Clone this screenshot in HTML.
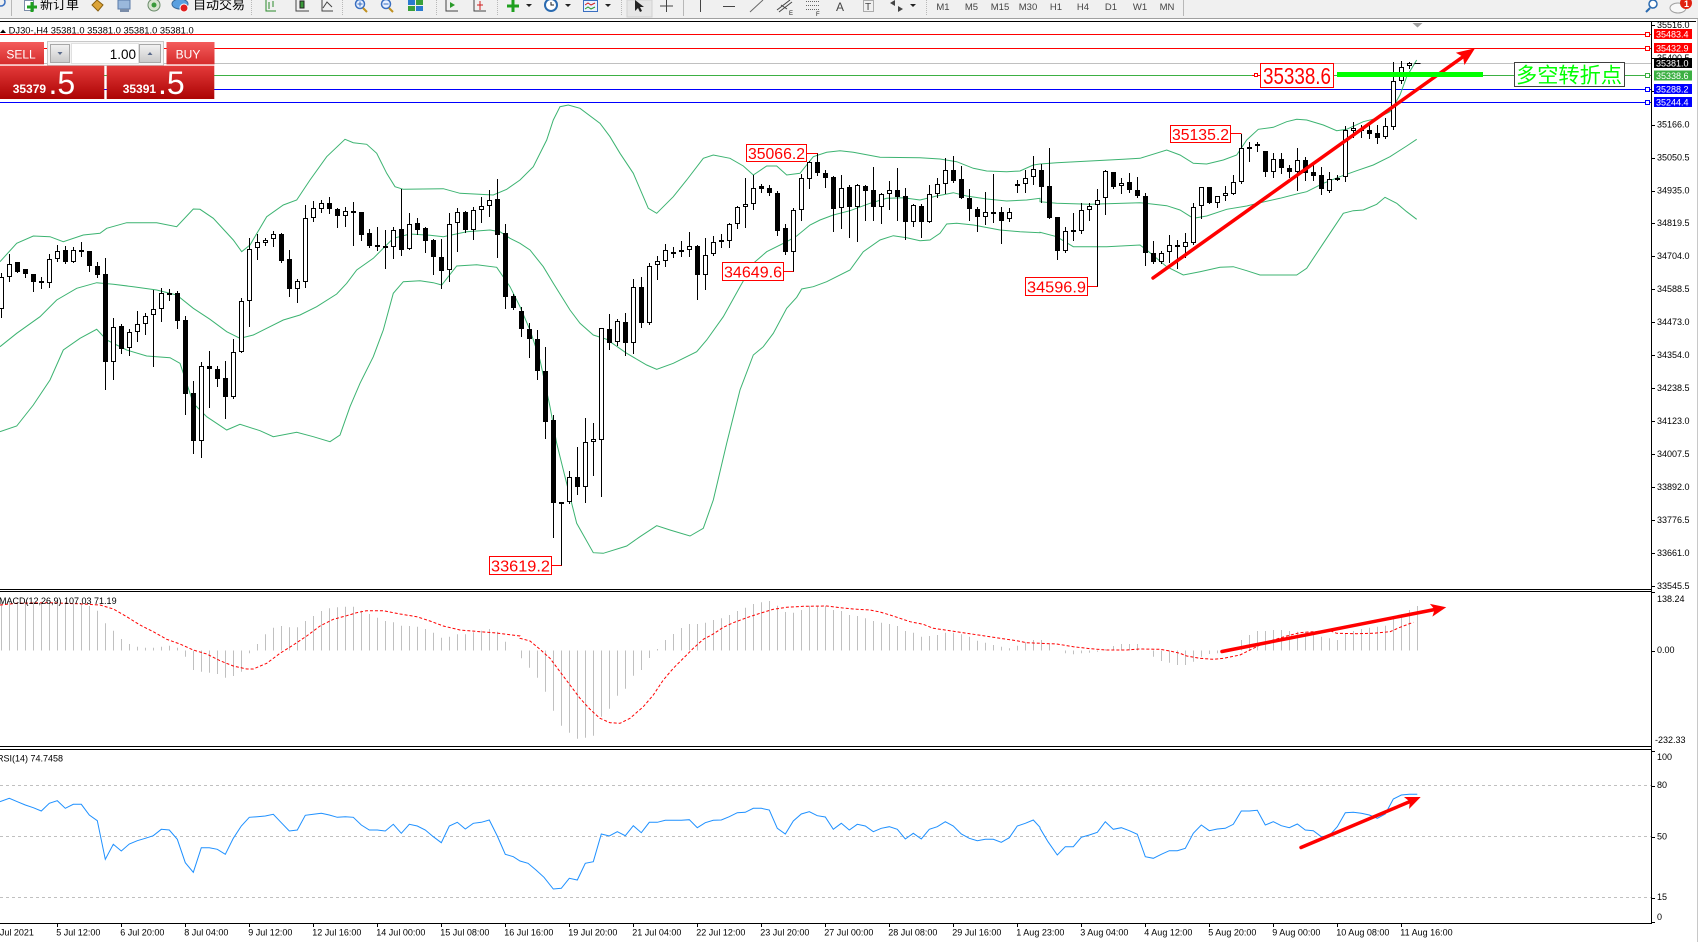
<!DOCTYPE html>
<html><head><meta charset="utf-8">
<style>
html,body{margin:0;padding:0;background:#fff;}
body{width:1698px;height:942px;overflow:hidden;position:relative;}
svg{display:block;font-family:"Liberation Sans","Noto Sans CJK SC",sans-serif;}
</style></head><body>
<svg id="s" width="1698" height="942" viewBox="0 0 1698 942" xmlns="http://www.w3.org/2000/svg">
<defs>
 <linearGradient id="gBtn" x1="0" y1="0" x2="0" y2="1"><stop offset="0" stop-color="#f45c5c"/><stop offset="1" stop-color="#d42a2a"/></linearGradient>
 <linearGradient id="gPx" x1="0" y1="0" x2="0" y2="1"><stop offset="0" stop-color="#e43a3a"/><stop offset="1" stop-color="#ac0404"/></linearGradient>
 <linearGradient id="gGr" x1="0" y1="0" x2="0" y2="1"><stop offset="0" stop-color="#f2f2f2"/><stop offset="1" stop-color="#c9c9c9"/></linearGradient>
 <clipPath id="cMain"><rect x="0" y="22" width="1651" height="567"/></clipPath>
 <clipPath id="cMacd"><rect x="0" y="592" width="1651" height="154"/></clipPath>
 <clipPath id="cRsi"><rect x="0" y="750" width="1651" height="173"/></clipPath>
</defs>
<rect width="1698" height="942" fill="#fff"/>

<!-- ===== toolbar ===== -->
<rect x="0" y="0" width="1698" height="19" fill="#f0f0f0"/>
<line x1="0" y1="18.5" x2="1698" y2="18.5" stroke="#a0a0a0"/>
<g stroke-width="1">
 <circle cx="1" cy="2" r="4" fill="none" stroke="#3a6fc0" stroke-width="1.5"/>
 <line x1="11.5" y1="0" x2="11.5" y2="16" stroke="#b8b8b8"/>
 <rect x="24.5" y="0.5" width="9" height="10" fill="#fff" stroke="#7a8ca8"/>
 <path d="M27 7h10M32 2v10" stroke="#1fa01f" stroke-width="3"/>
 <path d="M92 5 l5 -5 l6 5 l-5 6z" fill="#dca438" stroke="#8a6010"/>
 <rect x="118" y="0" width="12" height="9" fill="#9ab8dc" stroke="#5a7aa8"/>
 <rect x="120" y="9" width="9" height="3" fill="#7a8ca8"/>
 <circle cx="154" cy="5" r="6" fill="#d8e4d0" stroke="#6a8a6a"/>
 <circle cx="154" cy="5" r="2.5" fill="#3a9a3a"/>
 <ellipse cx="180" cy="4" rx="8" ry="5" fill="#5aa0e0" stroke="#3a6a9a"/>
 <circle cx="184" cy="8" r="4" fill="#e02020" stroke="#fff"/>
 <line x1="251.5" y1="0" x2="251.5" y2="16" stroke="#b8b8b8" stroke-dasharray="1,1"/>
 <path d="M266 0v11h10M269 2v7M273 1v6" fill="none" stroke="#2a8a2a"/>
 <path d="M296 0v11h13" fill="none" stroke="#444"/><rect x="300" y="1" width="4" height="7" fill="#3a9a3a" stroke="#222"/>
 <path d="M322 0v11h11M323 8l4 -6l5 5" fill="none" stroke="#444"/>
 <line x1="342.5" y1="0" x2="342.5" y2="16" stroke="#b8b8b8" stroke-dasharray="1,1"/>
 <circle cx="360" cy="4" r="4.5" fill="#e8f0ff" stroke="#3a6fc0" stroke-width="1.5"/><path d="M357.5 4h5M360 1.5v5" stroke="#3a6fc0"/><path d="M363 8l4 4" stroke="#c09020" stroke-width="2"/>
 <circle cx="386" cy="4" r="4.5" fill="#e8f0ff" stroke="#3a6fc0" stroke-width="1.5"/><path d="M383.5 4h5" stroke="#3a6fc0"/><path d="M389 8l4 4" stroke="#c09020" stroke-width="2"/>
 <rect x="408" y="0" width="7" height="5" fill="#2a7ad0"/><rect x="416" y="0" width="7" height="5" fill="#3aa03a"/><rect x="408" y="6" width="7" height="5" fill="#3aa03a"/><rect x="416" y="6" width="7" height="5" fill="#2a7ad0"/>
 <line x1="436.5" y1="0" x2="436.5" y2="16" stroke="#b8b8b8" stroke-dasharray="1,1"/>
 <path d="M446 0v11h12" fill="none" stroke="#444"/><path d="M450 2l5 3l-5 3z" fill="#2a9a2a"/>
 <path d="M474 0v11h12" fill="none" stroke="#444"/><path d="M480 1v9M477 5h6" stroke="#d02020"/>
 <line x1="497.5" y1="0" x2="497.5" y2="16" stroke="#b8b8b8" stroke-dasharray="1,1"/>
 <path d="M507 6h12M513 0v12" stroke="#1fa01f" stroke-width="3"/><path d="M526 4h6l-3 3z" fill="#222"/>
 <circle cx="551" cy="5" r="6" fill="#fff" stroke="#2a6ab0" stroke-width="2"/><path d="M551 2v3h3" stroke="#222" fill="none"/><path d="M565 4h6l-3 3z" fill="#222"/>
 <rect x="583.5" y="0.5" width="14" height="11" fill="#eaf2ff" stroke="#3a6fc0"/><path d="M585 5l3 -2l3 2l4 -2" stroke="#d02020" fill="none"/><path d="M585 9l3 -2l3 2l4 -2" stroke="#2a9a2a" fill="none"/><path d="M605 4h6l-3 3z" fill="#222"/>
 <line x1="621.5" y1="0" x2="621.5" y2="16" stroke="#b8b8b8" stroke-dasharray="1,1"/>
 <rect x="627" y="0" width="25" height="17" fill="#e6e6e6" stroke="#d0d0d0"/>
 <path d="M635 0v11l3 -3l2 4l2 -1l-2 -4h4z" fill="#222"/>
 <path d="M660 6h13M666.5 0v12" stroke="#444"/>
 <line x1="683.5" y1="0" x2="683.5" y2="16" stroke="#b8b8b8"/>
 <line x1="700.5" y1="0" x2="700.5" y2="12" stroke="#444"/>
 <line x1="723" y1="6.5" x2="735" y2="6.5" stroke="#444"/>
 <line x1="750" y1="12" x2="763" y2="0" stroke="#666"/>
 <path d="M777 10l13 -10M779 12l13 -10M781 5l6 4" stroke="#444" fill="none"/><text x="789" y="15" font-size="6" fill="#222">E</text>
 <path d="M806 1.5h13M806 5.5h13M806 9.5h13" stroke="#666" stroke-dasharray="1,1"/><text x="816" y="16" font-size="6" fill="#222">F</text>
 <text x="836" y="11" font-size="12" fill="#444">A</text>
 <rect x="863.5" y="0.5" width="10" height="11" fill="none" stroke="#666" stroke-dasharray="1,1"/><text x="865" y="10" font-size="10" fill="#444">T</text>
 <path d="M890 3l5 -3l0 6zM903 9l-5 3l0 -6z" fill="#444"/><path d="M910 4h6l-3 3z" fill="#222"/>
 <line x1="926.5" y1="0" x2="926.5" y2="16" stroke="#b8b8b8" stroke-dasharray="1,1"/>
 <line x1="1183.5" y1="0" x2="1183.5" y2="16" stroke="#b8b8b8"/>
 <circle cx="1653" cy="4" r="4" fill="#fff" stroke="#2a6ab0" stroke-width="1.5"/><path d="M1650 8l-4 4" stroke="#2a6ab0" stroke-width="2"/>
 <ellipse cx="1678" cy="8" rx="8" ry="5" fill="#f8f8f8" stroke="#a0a0a0"/>
 <circle cx="1686" cy="3" r="6" fill="#e02010"/>
</g>
<text x="40" y="9" font-size="13" fill="#000" font-family="'Noto Sans CJK SC',sans-serif">新订单</text>
<text x="193" y="9" font-size="13" fill="#000" font-family="'Noto Sans CJK SC',sans-serif">自动交易</text>
<g font-size="9.5" fill="#444" text-anchor="middle">
 <text x="943" y="10">M1</text><text x="971.5" y="10">M5</text><text x="1000" y="10">M15</text><text x="1028" y="10">M30</text><text x="1056" y="10">H1</text><text x="1083" y="10">H4</text><text x="1111" y="10">D1</text><text x="1140" y="10">W1</text><text x="1167" y="10">MN</text>
</g>
<text x="1684" y="7" font-size="9" fill="#fff" font-weight="bold">1</text>

<!-- ===== frame ===== -->
<line x1="0" y1="21.5" x2="1696" y2="21.5" stroke="#000"/>
<line x1="1697.5" y1="19" x2="1697.5" y2="942" stroke="#c8c8c8"/>

<!-- level lines -->
<g stroke-width="1">
 <line x1="0" y1="34.5" x2="1651" y2="34.5" stroke="#ff0000"/>
 <line x1="0" y1="48.5" x2="1651" y2="48.5" stroke="#ff0000"/>
 <line x1="0" y1="63.5" x2="1651" y2="63.5" stroke="#c0c0c0"/>
 <line x1="0" y1="75.5" x2="1651" y2="75.5" stroke="#3cb043"/>
 <line x1="0" y1="89.5" x2="1651" y2="89.5" stroke="#0000ff"/>
 <line x1="0" y1="102.5" x2="1651" y2="102.5" stroke="#0000ff"/>
 <rect x="1645.5" y="32.5" width="4" height="4" fill="#fff" stroke="#ff0000"/>
 <rect x="1645.5" y="46.5" width="4" height="4" fill="#fff" stroke="#ff0000"/>
 <rect x="1645.5" y="73.5" width="4" height="4" fill="#fff" stroke="#3cb043"/>
 <rect x="1645.5" y="87.5" width="4" height="4" fill="#fff" stroke="#0000ff"/>
 <rect x="1645.5" y="100.5" width="4" height="4" fill="#fff" stroke="#0000ff"/>
</g>
<polygon points="1412.5,23 1422.5,23 1417.5,27.5" fill="#a0a0a0"/>

<g id="dyn"></g>

<!-- annotations: labels -->
<g font-size="16" fill="#ff0000">
 <rect x="746.5" y="144.5" width="60" height="17" fill="#fff" stroke="#ff0000"/>
 <text x="748" y="159" textLength="57" lengthAdjust="spacingAndGlyphs">35066.2</text>
 <rect x="722.5" y="262.5" width="61" height="18" fill="#fff" stroke="#ff0000"/>
 <text x="724" y="277.5" textLength="58" lengthAdjust="spacingAndGlyphs">34649.6</text>
 <rect x="489.5" y="556.5" width="62" height="18" fill="#fff" stroke="#ff0000"/>
 <text x="491" y="571.5" textLength="59" lengthAdjust="spacingAndGlyphs">33619.2</text>
 <rect x="1170.5" y="125.5" width="60" height="17" fill="#fff" stroke="#ff0000"/>
 <text x="1172" y="140" textLength="57" lengthAdjust="spacingAndGlyphs">35135.2</text>
 <rect x="1025.5" y="277.5" width="62" height="18" fill="#fff" stroke="#ff0000"/>
 <text x="1027" y="292.5" textLength="59" lengthAdjust="spacingAndGlyphs">34596.9</text>
</g>
<g stroke="#ff0000" stroke-width="1" fill="none">
 <path d="M806.5 153.5H817.5"/>
 <path d="M783.5 271.5H793.5"/>
 <path d="M551.5 565.5H561.5"/>
 <path d="M1230.5 133.5H1241.5"/>
 <path d="M1087.5 286.5H1097.5"/>
 <path d="M1252 75.5H1260"/>
 <rect x="1254.5" y="73.5" width="3" height="3" fill="#fff"/>
</g>
<rect x="1260.5" y="63.5" width="73" height="24" fill="#fff" stroke="#ff0000"/>
<text x="1263" y="84" font-size="23" fill="#ff0000" textLength="68" lengthAdjust="spacingAndGlyphs">35338.6</text>
<rect x="1337" y="72" width="146" height="5" fill="#00ff00"/>
<rect x="1514.5" y="62.5" width="110" height="24" fill="#fff" stroke="#404040"/>
<text x="1516" y="82.5" font-size="21" fill="#00ff00" font-family="'Noto Sans CJK SC',sans-serif" textLength="106" lengthAdjust="spacingAndGlyphs">多空转折点</text>

<!-- header -->
<rect x="0" y="23" width="197" height="11" fill="#fff"/>
<polygon points="0,33 3,29.5 6,33" fill="#000"/>
<text x="8.7" y="33.5" font-size="9.3" fill="#000" textLength="185" lengthAdjust="spacingAndGlyphs">DJ30-,H4  35381.0 35381.0 35381.0 35381.0</text>

<!-- trade panel -->
<rect x="0" y="42" width="44" height="23" fill="url(#gBtn)"/>
<line x1="0" y1="64.5" x2="44" y2="64.5" stroke="#f4b0b0"/>
<text x="21" y="58.5" font-size="12" fill="#fff" text-anchor="middle">SELL</text>
<rect x="47.5" y="41.5" width="116" height="24" fill="#f4f4f4" stroke="#c8c8c8"/>
<rect x="50.5" y="44.5" width="19" height="18" fill="url(#gGr)" stroke="#a8a8a8"/>
<rect x="71.5" y="43.5" width="67" height="20" fill="#fff" stroke="#e0e0e0"/>
<rect x="139.5" y="44.5" width="21" height="18" fill="url(#gGr)" stroke="#a8a8a8"/>
<polygon points="57.5,52 62.5,52 60,55" fill="#5a6a8a"/>
<polygon points="147.5,55 152.5,55 150,52" fill="#5a6a8a"/>
<text x="136" y="59" font-size="13.5" fill="#000" text-anchor="end">1.00</text>
<rect x="166.5" y="42" width="48" height="23" fill="url(#gBtn)"/>
<line x1="166.5" y1="64.5" x2="214.5" y2="64.5" stroke="#f4b0b0"/>
<text x="188" y="58.5" font-size="12" fill="#fff" text-anchor="middle">BUY</text>
<rect x="0" y="65.7" width="104.3" height="33.3" fill="url(#gPx)"/>
<rect x="106.7" y="65.7" width="107.6" height="33.3" fill="url(#gPx)"/>
<text x="12.7" y="93" font-size="12" font-weight="bold" fill="#fff">35379</text>
<text x="48.5" y="94" font-size="32" fill="#fff">.5</text>
<text x="122.7" y="93" font-size="12" font-weight="bold" fill="#fff">35391</text>
<text x="158" y="94" font-size="32" fill="#fff">.5</text>

<!-- axes lines -->
<g stroke="#000" stroke-width="1">
 <line x1="1651.5" y1="22" x2="1651.5" y2="924"/>
 <line x1="0" y1="589.5" x2="1651.5" y2="589.5"/>
 <line x1="0" y1="591.5" x2="1651.5" y2="591.5"/>
 <line x1="0" y1="746.5" x2="1651.5" y2="746.5"/>
 <line x1="0" y1="749.5" x2="1651.5" y2="749.5"/>
 <line x1="0" y1="923.5" x2="1651.5" y2="923.5"/>
</g>

<!-- price axis -->
<g font-size="9" fill="#000">
 <text x="1657" y="28">35516.0</text>
 <text x="1657" y="61">35400.5</text>
 <text x="1657" y="94">35285.0</text>
 <text x="1657" y="127.5">35166.0</text>
 <text x="1657" y="160.5">35050.5</text>
 <text x="1657" y="193.5">34935.0</text>
 <text x="1657" y="226">34819.5</text>
 <text x="1657" y="259">34704.0</text>
 <text x="1657" y="292">34588.5</text>
 <text x="1657" y="325">34473.0</text>
 <text x="1657" y="358">34354.0</text>
 <text x="1657" y="391">34238.5</text>
 <text x="1657" y="424">34123.0</text>
 <text x="1657" y="457">34007.5</text>
 <text x="1657" y="490">33892.0</text>
 <text x="1657" y="523">33776.5</text>
 <text x="1657" y="556">33661.0</text>
 <text x="1657" y="589">33545.5</text>
 <text x="1657" y="602">138.24</text>
 <text x="1657" y="653">0.00</text>
 <text x="1655" y="743">-232.33</text>
 <text x="1657" y="760">100</text>
 <text x="1657" y="788">80</text>
 <text x="1657" y="839.5">50</text>
 <text x="1657" y="900">15</text>
 <text x="1657" y="920">0</text>
</g>
<g id="ticks" stroke="#000"></g>
<!-- colored axis labels -->
<g font-size="9" fill="#fff">
 <rect x="1654" y="29" width="38" height="10" fill="#ff0000"/><text x="1656" y="37.5">35483.4</text>
 <rect x="1654" y="43" width="38" height="10" fill="#ff0000"/><text x="1656" y="51.5">35432.9</text>
 <rect x="1654" y="58" width="38" height="10" fill="#000"/><text x="1656" y="66.5">35381.0</text>
 <rect x="1654" y="70.5" width="38" height="10" fill="#3cb043"/><text x="1656" y="79">35338.6</text>
 <rect x="1654" y="84" width="38" height="10" fill="#0000ff"/><text x="1656" y="92.5">35288.2</text>
 <rect x="1654" y="97" width="38" height="10" fill="#0000ff"/><text x="1656" y="105.5">35244.4</text>
</g>

<!-- indicator labels -->
<text x="-1" y="604" font-size="9" fill="#000">MACD(12,26,9) 107.03 71.19</text>
<text x="-3" y="761.5" font-size="9" fill="#000">RSI(14) 74.7458</text>

<!-- time axis -->
<g font-size="9" fill="#000">
 <text x="-7.7" y="935.5">2 Jul 2021</text>
 <text x="56.3" y="935.5">5 Jul 12:00</text>
 <text x="120.3" y="935.5">6 Jul 20:00</text>
 <text x="184.3" y="935.5">8 Jul 04:00</text>
 <text x="248.3" y="935.5">9 Jul 12:00</text>
 <text x="312.3" y="935.5">12 Jul 16:00</text>
 <text x="376.3" y="935.5">14 Jul 00:00</text>
 <text x="440.3" y="935.5">15 Jul 08:00</text>
 <text x="504.3" y="935.5">16 Jul 16:00</text>
 <text x="568.3" y="935.5">19 Jul 20:00</text>
 <text x="632.3" y="935.5">21 Jul 04:00</text>
 <text x="696.3" y="935.5">22 Jul 12:00</text>
 <text x="760.3" y="935.5">23 Jul 20:00</text>
 <text x="824.3" y="935.5">27 Jul 00:00</text>
 <text x="888.3" y="935.5">28 Jul 08:00</text>
 <text x="952.3" y="935.5">29 Jul 16:00</text>
 <text x="1016.3" y="935.5">1 Aug 23:00</text>
 <text x="1080.3" y="935.5">3 Aug 04:00</text>
 <text x="1144.3" y="935.5">4 Aug 12:00</text>
 <text x="1208.3" y="935.5">5 Aug 20:00</text>
 <text x="1272.3" y="935.5">9 Aug 00:00</text>
 <text x="1336.3" y="935.5">10 Aug 08:00</text>
 <text x="1400.3" y="935.5">11 Aug 16:00</text>
</g>
</svg>
<script>
(function(){
var out='';
function f(v){return (Math.round(v*10)/10).toString();}
function L(x1,y1,x2,y2,c,w,ex){out+='<line x1="'+f(x1)+'" y1="'+f(y1)+'" x2="'+f(x2)+'" y2="'+f(y2)+'" stroke="'+c+'" stroke-width="'+(w||1)+'" '+(ex||'')+'/>';}
function P(pts,c,w,ex){out+='<polyline points="'+pts.map(function(p){return f(p[0])+','+f(p[1]);}).join(' ')+'" fill="none" stroke="'+c+'" stroke-width="'+(w||1)+'" '+(ex||'')+'/>';}
function conv(segs){var r=[];segs.forEach(function(s){var a=s[2],xo=s[0],yo=s[1];for(var i=0;i<a.length;i+=2)r.push([xo+a[i]/3,yo+a[i+1]/3]);});return r;}

/* Bollinger bands */
var UP=conv([[0,90,[0,515,50,460,100,438,150,440,190,455,250,435,300,430,320,415,380,398,470,398,530,410,580,357,600,358,640,385,700,450,725,485,750,465,800,380,850,345,890,330,930,270,980,200,1035,148,1060,158,1100,163,1130,190,1160,250,1185,290,1210,298,1330,296,1380,310,1480,315,1520,298,1560,270]],
[520,90,[40,230,80,150,100,90,120,50,145,45,180,55,240,100,270,140,300,190,340,250,385,355,410,370,460,320,500,270,550,205,580,195,630,205,670,228,700,255,740,228,770,228,800,255,840,250,880,200,920,187,960,182,1000,187,1080,202,1200,203,1260,207,1310,215,1360,235,1400,243,1460,245,1500,243,1540,225,1560,222]],
[1040,40,[50,368,150,363,250,358,300,355,380,330,420,345,460,370,500,372,550,360,590,345,620,300,655,268,700,262,740,245,770,238,800,240,850,255,890,272,920,268,970,245,1010,235,1050,215,1080,165,1100,110,1130,60]]]);
var MID=conv([[0,90,[0,770,50,730,120,680,170,630,230,595,290,578,340,583,400,590,470,600,530,615,580,655,630,688,680,725,720,745,760,735,800,715,850,690,900,675,950,650,1010,612,1040,580,1070,540,1120,505,1180,445,1230,432,1290,436,1330,440,1400,425,1470,420,1500,425,1530,445,1560,460]],
[520,90,[30,480,70,530,100,580,150,660,180,700,220,735,260,748,320,790,380,825,410,838,460,820,530,785,560,750,610,680,660,590,700,520,740,485,800,455,830,438,870,405,900,390,940,375,990,362,1050,340,1100,325,1150,323,1200,330,1250,318,1300,308,1340,318,1400,327,1460,333,1520,330,1560,325]],
[1040,40,[0,485,50,490,150,493,250,490,300,488,380,497,420,510,460,535,500,528,560,508,620,498,660,488,720,475,770,462,800,455,850,430,900,410,950,392,1000,375,1050,350,1100,318,1130,298]]]);
var LO=conv([[0,90,[0,1025,50,1008,100,945,150,870,190,780,240,745,290,718,320,750,380,780,440,798,510,803,540,820,560,880,580,940,620,980,680,1020,720,1003,780,1022,820,1040,890,1027,940,1040,990,1055,1020,1035,1050,950,1080,880,1120,800,1150,720,1180,610,1210,575,1260,572,1300,578,1325,585,1370,528,1430,524,1490,532,1530,590,1560,650]],
[520,90,[30,720,60,810,90,950,110,1060,135,1160,170,1300,220,1388,250,1390,320,1368,360,1340,410,1307,450,1320,510,1338,550,1315,580,1230,620,1060,660,900,700,795,730,770,760,730,800,655,830,622,845,597,880,590,920,575,990,540,1030,485,1080,450,1120,437,1160,443,1200,452,1230,450,1260,430,1280,402,1310,400,1360,405,1440,420,1500,425,1560,428]],
[1040,40,[0,577,50,590,100,620,200,620,300,615,320,630,380,680,430,705,480,695,540,682,580,680,620,692,660,705,770,705,800,685,850,610,910,520,940,512,970,510,1010,493,1035,472,1070,490,1100,515,1130,538]]]);
out+='<g clip-path="url(#cMain)">';
P(UP,'#3cb371',1);P(MID,'#3cb371',1);P(LO,'#3cb371',1);

/* candles */
var C1=[[1,562,658,548,680],[1,522,562,492,572],[0,517,545,517,545],[0,537,553,537,560],[0,552,575,552,602],[0,573,580,560,593],[1,508,580,492,590],[1,482,508,466,512],[0,481,515,468,520],[1,481,515,470,515],[0,481,485,457,497],[0,483,527,483,543],[0,528,555,516,562],[0,552,815,505,897],[1,712,815,685,867],[0,708,776,702,788],[1,727,773,717,794],[1,703,727,662,752],[1,679,703,670,731],[1,658,676,600,828],[1,610,658,594,692],[0,609,614,597,630],[0,609,692,604,713],[0,690,911,678,971],[0,910,1052,873,1088],[1,829,1052,817,1100],[0,829,836,784,951],[0,838,866,828,888],[0,865,920,814,983],[1,787,920,748,923],[1,634,785,624,785],[1,478,634,444,709],[1,457,475,432,506],[1,451,458,444,464],[1,433,446,424,468],[0,433,513,430,516],[0,508,596,481,618],[1,574,596,568,635],[1,385,575,346,590],[1,355,385,333,392],[1,340,358,330,365],[0,340,358,322,368],[0,358,377,355,412],[1,364,377,350,407],[0,364,368,336,465],[0,367,434,367,450],[0,430,467,416,471],[0,464,467,411,480],[0,467,471,420,533],[1,421,471,411,503],[0,418,479,296,494],[1,403,478,370,478],[0,400,419,384,432],[0,415,452,410,485],[0,451,502,447,553],[0,502,542,446,595],[1,403,541,369,572],[1,367,400,353,482],[0,366,419,362,425],[1,361,419,350,446],[1,349,361,321,395],[1,331,349,300,377],[0,327,434,267,500],[0,430,621,403,653],[0,618,654,612,657]];
var C2=[[0,662,718,652,738],[0,718,748,700,802],[0,748,842,720,868],[0,843,995,772,1045],[0,990,1240,975,1340],[1,1235,1240,1235,1425],[1,1160,1235,1143,1240],[0,1160,1190,1072,1213],[1,1057,1192,985,1235],[1,1048,1057,1000,1155],[1,715,1050,715,1218],[0,718,760,672,778],[1,693,757,688,764],[0,697,760,668,795],[1,592,760,567,790],[0,592,698,562,712],[1,528,700,518,703],[1,514,526,498,567],[1,481,514,462,527],[0,485,488,472,502],[1,481,487,453,498],[1,468,481,427,497],[0,468,556,465,627],[1,495,556,444,597],[1,457,493,437,494],[0,451,455,433,470],[1,402,454,398,470],[1,351,403,348,413],[1,342,350,265,410],[1,294,342,256,356],[0,289,298,282,305],[0,295,310,286,316],[0,309,422,303,435],[0,414,486,402,492],[1,361,487,354,543],[1,265,361,251,390],[1,217,268,212,293],[0,216,250,190,255],[0,249,263,240,290],[0,261,358,257,422],[1,295,355,255,413],[0,292,350,285,440],[1,286,352,283,452],[0,288,303,285,390],[0,301,352,232,390],[1,313,352,308,398],[1,301,313,273,358],[0,300,322,235,390],[0,318,395,295,446],[1,345,397,342,407],[0,348,397,342,442],[1,311,397,285,397],[1,283,313,263,320],[1,240,283,205,310],[0,240,272,198,277],[0,268,323,229,323],[0,323,358,297,390],[0,357,382,350,422],[1,367,382,307,403],[0,366,369,252,397],[0,367,392,350,458],[1,367,388,355,392],[0,283,287,270,306],[1,263,283,240,305],[1,238,262,198,283]];
var C3=[[0,390,440,372,487],[0,438,535,325,535],[0,532,634,532,658],[1,574,632,562,635],[1,571,575,520,600],[1,511,572,490,580],[1,499,511,488,540],[1,479,496,448,738],[1,394,475,390,521],[0,396,440,396,443],[1,428,438,413,458],[0,427,450,398,455],[0,451,468,412,472],[0,468,640,460,675],[0,640,667,603,668],[1,640,665,632,670],[1,614,637,585,665],[0,614,619,600,683],[1,606,620,578,650],[1,502,610,490,612],[1,442,498,441,535],[0,442,490,440,490],[1,469,490,468,500],[1,460,468,439,480],[1,427,462,405,463],[1,325,427,281,428],[0,322,325,305,362],[1,311,318,306,334],[0,333,395,333,408],[1,357,396,340,410],[0,357,385,340,400],[0,385,396,375,410],[1,361,397,323,450],[0,361,400,350,420],[0,397,408,372,420],[0,405,448,380,463],[1,416,452,395,455],[0,413,417,405,420],[1,271,412,258,424],[1,265,272,245,290],[0,268,272,255,290],[0,270,283,256,295],[0,280,293,256,308],[1,259,290,235,295],[1,124,260,66,268],[1,80,124,62,128],[1,70,78,66,85]];
function cdl(arr,k0,yo){arr.forEach(function(c,i){var k=k0+i,cx=8*k+1.5;function r(v){return Math.round(yo+v/3);}
 var bt=r(c[1]),bb=r(c[2]),wt=r(c[3]),wb=r(c[4]);
 L(cx,wt,cx,wb+1,'#000',1);
 var h=bb-bt-1;if(h<1)h=1;
 out+='<rect x="'+(cx-2)+'" y="'+(bt+0.5)+'" width="4" height="'+h+'" fill="'+(c[0]?'#fff':'#000')+'" stroke="#000"/>';});}
cdl(C1,0,90);cdl(C2,65,90);cdl(C3,130,40);
L(1414.5,63.5,1420.5,63.5,'#000',1);
out+='</g>';

/* MACD */
var H1=[35,35,35,35,35,35,35,35,35,40,42,48,62,100,122,147,162,170,173,173,170,167,173,200,240,245,248,252,263,258,245,190,162,133,113,108,112,112,93,78,63,55,52,50,50,62,72,83,93,97,107,108,110,117,128,143,140,133,133,127,122,117,125,155,180];
var H2=[205,233,263,305,362,407,428,446,443,437,380,356,317,296,257,240,204,177,150,132,114,102,102,98,90,85,75,63,53,42,37,33,47,66,68,60,47,47,48,60,63,75,78,85,93,98,102,108,123,128,140,138,135,128,128,133,140,152,158,165,170,175,167,157,150];
var H3=[150,162,182,190,193,190,188,185,178,168,162,162,162,182,200,213,218,225,225,215,200,192,190,182,175,150,135,123,123,120,120,123,125,125,128,140,145,150,130,123,117,113,110,107,88,73,60,48];
var H=H1.concat(H2,H3);
out+='<g clip-path="url(#cMacd)">';
H.forEach(function(v,k){var cx=8*k+1.5,y=590+v/3;if(Math.abs(y-650.7)<0.8)return;L(cx,650.5,cx,y,'#c0c0c0',1);});
var SIG=conv([[0,590,[0,45,50,40,150,38,250,42,300,45,340,57,380,80,420,105,460,125,500,148,540,162,580,180,620,192,660,212,700,228,740,237,760,237,800,220,840,190,880,165,920,138,960,108,1000,88,1040,77,1070,68,1100,62,1150,62,1200,72,1250,80,1290,93,1330,108,1380,120,1440,125,1480,128,1520,133,1560,138]],
[520,590,[0,145,30,153,60,178,90,205,120,245,150,285,180,325,210,358,240,385,270,398,300,400,330,385,370,350,400,315,430,270,460,235,490,205,520,175,550,148,580,132,610,112,640,98,680,83,720,70,760,58,800,52,850,49,920,48,960,53,1000,57,1050,60,1080,66,1110,75,1140,85,1170,95,1210,103,1240,115,1290,122,1340,130,1390,137,1440,145,1490,152,1520,158,1560,160]],
[1040,590,[50,162,100,170,150,176,200,180,260,180,300,177,360,178,390,183,420,190,440,198,480,205,520,208,550,205,600,195,630,180,660,165,700,150,740,138,780,128,820,125,870,122,890,130,950,131,1000,130,1050,125,1080,112,1120,97]]]);
P(SIG,'#ff0000',1,'stroke-dasharray="3,2"');
out+='</g>';

/* RSI */
out+='<g clip-path="url(#cRsi)">';
[785.5,836.5,897.5].forEach(function(y){L(0,y,1651,y,'#c0c0c0',1,'stroke-dasharray="3,3"');});
var RSI=conv([[0,590,[0,635,28,625,52,635,76,645,100,653,124,663,148,640,172,632,196,655,220,643,244,643,268,675,292,692,316,808,340,763,364,783,388,762,412,752,436,745,460,737,484,718,508,720,532,748,556,818,580,847,604,773,628,773,652,778,676,793,700,745,724,708,748,682,772,680,796,678,820,673,844,698,868,723,892,720,916,676,940,673,964,670,988,675,1012,682,1036,680,1060,682,1084,705,1108,720,1132,720,1156,723,1180,703,1204,730,1228,703,1252,708,1276,720,1300,740,1324,758,1348,708,1372,697,1396,717,1420,700,1444,697,1468,690,1492,738,1516,793,1540,800,1560,813]],
[520,590,[24,820,48,840,72,862,100,897,124,895,148,865,172,870,196,820,220,815,244,732,268,738,292,725,316,737,340,707,364,728,388,697,412,697,436,691,460,691,484,691,508,689,532,713,556,698,580,691,604,690,628,680,652,668,676,667,700,655,724,655,748,660,772,715,796,732,820,693,844,672,868,665,892,677,916,681,940,718,964,700,988,720,1012,703,1036,708,1060,725,1084,715,1108,710,1132,718,1156,747,1180,730,1204,747,1228,718,1252,710,1276,695,1300,708,1324,732,1348,745,1372,752,1396,748,1420,748,1444,757,1468,743,1492,708,1516,700,1540,690,1560,712]],
[1040,590,[0,715,24,755,52,795,76,770,100,770,124,742,148,735,172,727,196,695,220,718,244,713,268,722,292,733,316,800,340,805,364,793,388,782,412,782,436,775,460,730,484,705,508,722,532,717,556,715,580,703,604,663,628,663,652,661,676,705,700,695,724,707,748,713,772,702,796,720,820,722,844,740,868,737,892,710,916,668,940,667,964,670,988,675,1012,685,1036,672,1060,627,1084,615,1108,613,1132,613]]]);
P(RSI,'#1e90ff',1);
out+='</g>';

/* arrows */
function arrow(x1,y1,x2,y2,w,hl,hw){var dx=x2-x1,dy=y2-y1,l=Math.sqrt(dx*dx+dy*dy),ux=dx/l,uy=dy/l,nx=-uy,ny=ux;
 var bx=x2-ux*hl,by=y2-uy*hl;
 L(x1,y1,bx+ux*2,by+uy*2,'#ff0000',w,'stroke-linecap="round"');
 out+='<polygon points="'+f(x2)+','+f(y2)+' '+f(bx+nx*hw)+','+f(by+ny*hw)+' '+f(bx+ux*3)+','+f(by+uy*3)+' '+f(bx-nx*hw)+','+f(by-ny*hw)+'" fill="#ff0000" stroke="#ff0000" stroke-width="1"/>';}
arrow(1153,278,1474,49,3.5,16,6.5);
arrow(1222,651.5,1445,607.5,3.5,13,5.5);
arrow(1301,847.5,1419.5,797.5,3.5,13,5.5);

document.getElementById('dyn').innerHTML=out;

/* axis ticks */
var t='';
function T(x1,y1,x2,y2){t+='<line x1="'+x1+'" y1="'+y1+'" x2="'+x2+'" y2="'+y2+'"/>';}
[25,58,91,124.5,157.5,190.5,223,256,289,322,355,388,421,454,487,520,553,586,592,650.5,785.5,836.5,897.5,751,922].forEach(function(y){var yy=Math.round(y)+0.5;T(1651,yy,1655,yy);});
for(var n=-1;n<=21;n++){var x=Math.round(57.3+64*n)+0.5;T(x,923,x,927);}
document.getElementById('ticks').innerHTML=t;
})();
</script>
</body></html>
